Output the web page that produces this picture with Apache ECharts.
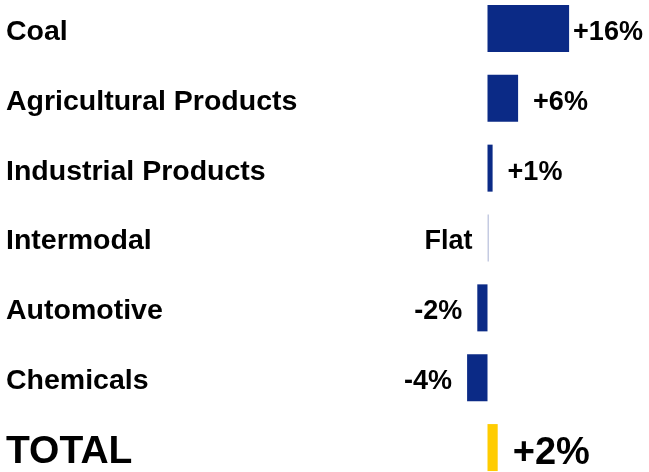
<!DOCTYPE html>
<html>
<head>
<meta charset="utf-8">
<script src="https://cdn.jsdelivr.net/npm/echarts@6/dist/echarts.min.js"></script>
<style>
  html, body { margin: 0; padding: 0; background: #fff; }
  #chart { width: 649px; height: 472px; }
</style>
</head>
<body>
<div id="chart"></div>
<script>
var categories = ['Coal', 'Agricultural Products', 'Industrial Products', 'Intermodal', 'Automotive', 'Chemicals', 'TOTAL'];
var changes = [16, 6, 1, 0, -2, -4, 2];
var valueLabels = ['+16%', '+6%', '+1%', 'Flat', '-2%', '-4%', '+2%'];

var navy = '#0b2a86';
var gold = '#ffcc00';
var font = '"Liberation Sans", Arial, sans-serif';

var barData = changes.map(function (v, i) {
    var isTotal = categories[i] == 'TOTAL';
    var color = isTotal ? gold : (v == 0 ? '#c5cbe2' : navy);
    return {
        value: v,
        itemStyle: { color: color },
        label: {
            position: v > 0 ? 'right' : 'left',
            distance: i == 0 ? 4 : 15,
            fontSize: isTotal ? 38 : 27,
            offset: [0, isTotal ? 6 : 4]
        }
    };
});

var option = {
    animation: false,
    grid: {
        left: 462,
        right: 59.5,
        top: -6.5,
        height: 489,
        containLabel: false,
        outerBoundsMode: 'none'
    },
    xAxis: {
        type: 'value',
        min: -5,
        max: 20,
        show: false
    },
    yAxis: {
        type: 'category',
        inverse: true,
        data: categories,
        axisLine: { show: false, onZero: false },
        axisTick: { show: false },
        axisLabel: {
            align: 'left',
            margin: 456,
            formatter: function (value) {
                return value == 'TOTAL' ? '{t|' + value + '}' : '{c|' + value + '}';
            },
            rich: {
                c: { fontFamily: font, fontWeight: 'bold', fontSize: 28.5, color: '#000', padding: [7, 0, 0, 0] },
                t: { fontFamily: font, fontWeight: 'bold', fontSize: 39, color: '#000', padding: [10, 0, 0, 0] }
            }
        }
    },
    series: [
        {
            type: 'bar',
            data: barData,
            barWidth: 47,
            barMinHeight: 1.5,
            label: {
                show: true,
                fontFamily: font,
                fontWeight: 'bold',
                color: '#000',
                formatter: function (p) {
                    return valueLabels[p.dataIndex];
                }
            }
        }
    ]
};

var chart = echarts.init(document.getElementById('chart'));
chart.setOption(option);
</script>
</body>
</html>
